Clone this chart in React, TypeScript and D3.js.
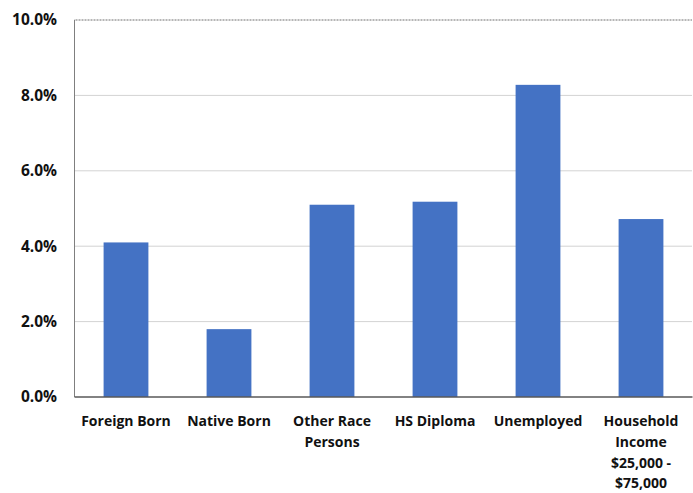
import React from "react";
import * as d3 from "d3";

const categories = ["Foreign Born", "Native Born", "Other Race Persons", "HS Diploma", "Unemployed", "Household Income $25,000 - $75,000"];
const labelLines = [["Foreign Born"], ["Native Born"], ["Other Race", "Persons"], ["HS Diploma"], ["Unemployed"], ["Household", "Income", "$25,000 -", "$75,000"]];
const values = [4.1, 1.8, 5.1, 5.18, 8.28, 4.72];
const yTicks = [0, 2, 4, 6, 8, 10];

const W = 693, H = 493;
const M = { left: 74.5, right: 0.5, top: 20, bottom: 96 };

export default function App() {
  const x = d3.scaleBand<string>().domain(categories).range([M.left, W - M.right]).paddingInner(0.565).paddingOuter(0.2825);
  const y = d3.scaleLinear().domain([0, 10]).range([H - M.bottom, M.top]);
  const font = "'Open Sans', 'Liberation Sans', sans-serif";
  return (
    <svg width={W} height={H} style={{ position: "absolute", left: 0, top: 0 }}>
      <rect width={W} height={H} fill="#fff" />
      {yTicks.filter(t => t > 0).map(t => (
        <line key={t} x1={M.left} x2={W - M.right} y1={y(t)} y2={y(t)}
          stroke={t === 10 ? "#6f6f6f" : "#a6a6a6"} strokeWidth={1} strokeDasharray={t === 10 ? "1 0.5" : "1 1"} />
      ))}
      {categories.map((c, i) => (
        <rect key={c} x={x(c)} y={y(values[i])} width={x.bandwidth()} height={y(0) - y(values[i])} fill="#4472c4" />
      ))}
      <line x1={M.left} x2={M.left} y1={M.top} y2={y(0)} stroke="#7f7f7f" strokeWidth={1} />
      <line x1={M.left} x2={W - M.right} y1={y(0)} y2={y(0)} stroke="#595959" strokeWidth={1.5} />
      {yTicks.map(t => (
        <text key={t} x={57} y={y(t)} dy="0.35em" textAnchor="end" fontFamily={font} fontWeight="bold" fontSize={15.5} fill="#111">
          {t.toFixed(1) + "%"}
        </text>
      ))}
      {categories.map((c, i) => (
        <text key={c} x={(x(c) as number) + x.bandwidth() / 2} textAnchor="middle" fontFamily={font} fontWeight="bold" fontSize={14} fill="#111">
          {labelLines[i].map((l, j) => (
            <tspan key={j} x={(x(c) as number) + x.bandwidth() / 2} y={421 + j * 20.8} dy="0.35em">{l}</tspan>
          ))}
        </text>
      ))}
    </svg>
  );
}
